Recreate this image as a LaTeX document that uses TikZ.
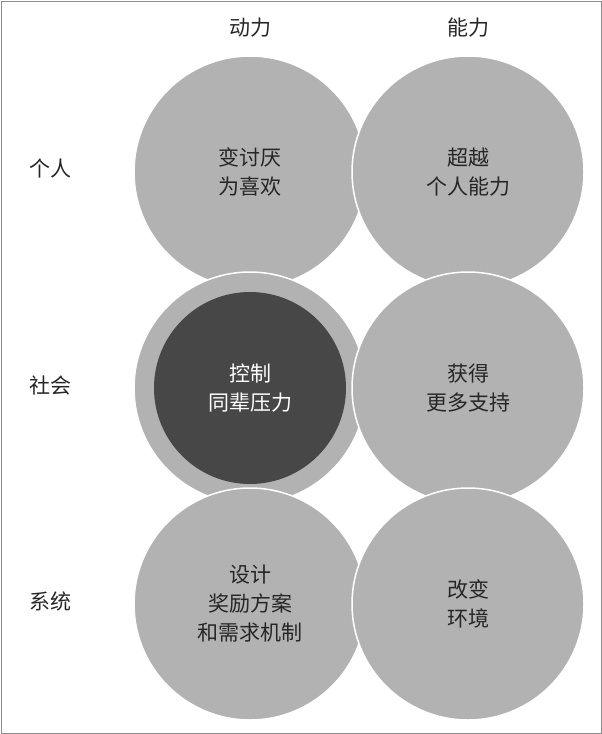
\documentclass[tikz,border=0pt]{standalone}
\usepackage{fontspec}
\setmainfont{Noto Sans CJK SC}
\begin{document}
\begin{tikzpicture}[x=1pt,y=-1pt,
  bub/.style={circle,fill=black!30,draw=white,line width=1.5pt,minimum size=232pt,inner sep=0pt},
  core/.style={circle,fill=black!72,minimum size=192pt,inner sep=0pt},
  lab/.style={font=\fontsize{21}{29}\selectfont,align=center,text=black!85},
  wlab/.style={font=\fontsize{21}{29}\selectfont,align=center,text=white}]
\useasboundingbox (0,0) rectangle (602,734);
\draw[black!45,line width=1pt] (1,1) rectangle (601,733);
\node[bub] (a1) at (250,172) {};
\node[bub] (b1) at (468,172) {};
\node[bub] (a2) at (250,388) {};
\node[bub] (b2) at (468,388) {};
\node[bub] (a3) at (250,604) {};
\node[bub] (b3) at (468,604) {};
\node[core] (c) at (250,388) {};
\node[lab] (t1) at (a1) {变讨厌\\为喜欢};
\node[lab] (t2) at (b1) {超越\\个人能力};
\node[wlab] (t3) at (c) {控制\\同辈压力};
\node[lab] (t4) at (b2) {获得\\更多支持};
\node[lab] (t5) at (a3) {设计\\奖励方案\\和需求机制};
\node[lab] (t6) at (b3) {改变\\环境};
\node[lab] (h1) at (250,28) {动力};
\node[lab] (h2) at (468,28) {能力};
\node[lab] (r1) at (50,168) {个人};
\node[lab] (r2) at (50,385) {社会};
\node[lab] (r3) at (50,601) {系统};
\end{tikzpicture}
\end{document}
